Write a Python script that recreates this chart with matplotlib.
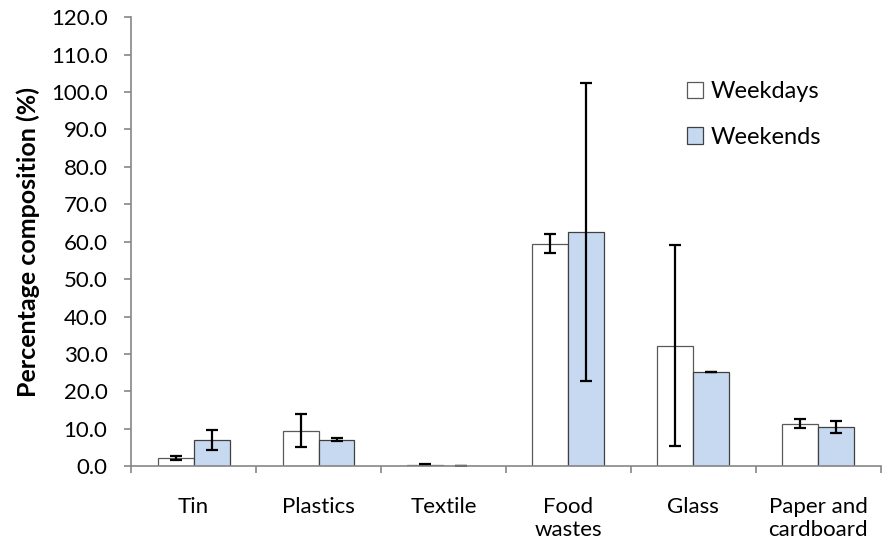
import matplotlib
matplotlib.use("Agg")
import matplotlib.pyplot as plt
from matplotlib.ticker import FormatStrFormatter, MultipleLocator, FixedLocator, NullFormatter
import numpy as np

categories = ["Tin", "Plastics", "Textile", "Food\nwastes", "Glass", "Paper and\ncardboard"]
weekdays = [2.2, 9.5, 0.4, 59.5, 32.2, 11.4]
weekdays_err = [0.5, 4.35, 0.15, 2.5, 26.9, 1.2]
weekends = [6.9, 7.1, 0.1, 62.6, 25.2, 10.5]
weekends_err = [2.7, 0.5, 0.05, 39.9, 0.1, 1.6]

plt.rcParams["font.family"] = ["Lato", "DejaVu Sans"]
FS = 16

fig = plt.figure(figsize=(8.86, 5.53), dpi=100)
ax = fig.add_axes([0.148, 0.157, 0.846, 0.812])

x = np.arange(len(categories))
w = 0.288
err_kw = dict(ecolor="black", elinewidth=1.6, capsize=4.5, capthick=1.6)
ax.bar(x - w / 2, weekdays, w, yerr=weekdays_err, color="white",
       edgecolor="#595959", linewidth=0.9, label="Weekdays", error_kw=err_kw)
ax.bar(x + w / 2, weekends, w, yerr=weekends_err, color="#C6D9F1",
       edgecolor="#404040", linewidth=0.9, label="Weekends", error_kw=err_kw)

ax.set_xlim(-0.5, len(categories) - 0.5)
ax.set_ylim(0, 120)
ax.yaxis.set_major_locator(MultipleLocator(10))
ax.yaxis.set_major_formatter(FormatStrFormatter("%.1f"))

# category labels centred, tick marks at the category boundaries
ax.xaxis.set_major_locator(FixedLocator(np.arange(-0.5, len(categories), 1.0)))
ax.xaxis.set_major_formatter(NullFormatter())
ax.xaxis.set_minor_locator(FixedLocator(x))
ax.set_xticklabels(categories, minor=True)
ax.tick_params(axis="x", which="minor", length=0, pad=22, labelsize=FS)
ax.tick_params(axis="x", which="major", length=5, width=1.2, color="#868686", direction="out")
ax.tick_params(axis="y", length=5, width=1.2, color="#868686", direction="out", labelsize=FS, pad=12)

for side in ("top", "right"):
    ax.spines[side].set_visible(False)
for side in ("left", "bottom"):
    ax.spines[side].set_color("#868686")
    ax.spines[side].set_linewidth(1.2)

ax.set_ylabel("Percentage composition (%)", fontsize=18, fontweight="bold", labelpad=8)

ax.legend(loc="upper left", bbox_to_anchor=(0.713, 0.905), frameon=False, fontsize=17,
          handlelength=0.7, handleheight=0.7, handletextpad=0.3, labelspacing=1.05)

fig.savefig("out.png", dpi=100)
